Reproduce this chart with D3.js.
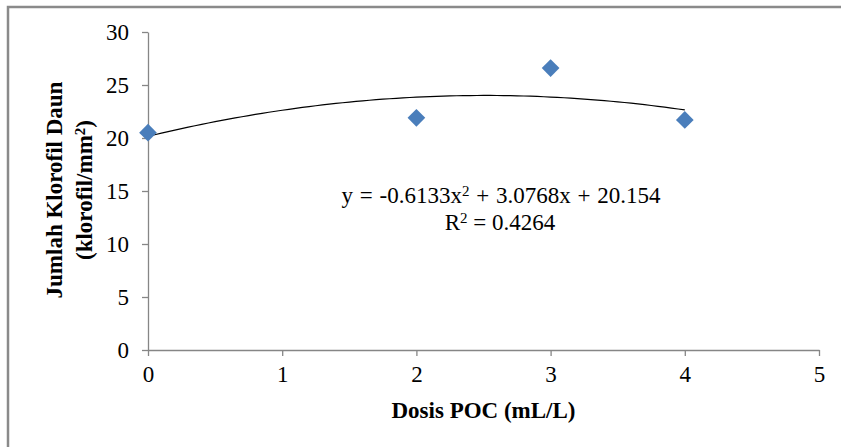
<!DOCTYPE html>
<html>
  <head>
    <script src="https://cdnjs.cloudflare.com/ajax/libs/d3/7.8.5/d3.min.js" charset="utf-8"></script>
    <style type="text/css">
      body {
        margin: 0;
        background: #fff;
      }
      svg text {
        font-family: "Liberation Serif", "Times New Roman", serif;
        fill: #000;
      }
      .axis path, .axis line {
        fill: none;
        stroke: #868686;
        stroke-width: 1.3px;
      }
    </style>
  </head>
  <body>
    <script type="text/javascript">
      // data
      var dosis = [0, 2, 3, 4];
      var klorofil = [20.5, 21.9, 26.6, 21.7];
      var xTicks = [0, 1, 2, 3, 4, 5];
      var yTicks = [0, 5, 10, 15, 20, 25, 30];
      // trendline coefficients as printed on the chart: a*x^2 + b*x + c
      var trendCoef = [-0.6133, 3.0768, 20.154];
      var trendLabel = ["y = -0.6133x", "2", " + 3.0768x + 20.154"];
      var r2Label = "0.4264";

      var w = 841, h = 447,
          margin = { top: 32, right: 22, bottom: 97, left: 148 };

      var svg = d3.select("body").append("svg")
          .attr("width", w)
          .attr("height", h);

      // outer frame (right and bottom edges are cut off in the picture)
      svg.append("path")
          .attr("d", "M8," + h + "V7H" + w)
          .attr("fill", "none")
          .attr("stroke", "#8a8a8a")
          .attr("stroke-width", 2.5);

      var xScale = d3.scaleLinear()
          .domain([0, 5])
          .range([margin.left, w - margin.right]);

      var yScale = d3.scaleLinear()
          .domain([0, 30])
          .range([h - margin.bottom, margin.top]);

      var xAxis = d3.axisBottom(xScale).tickValues(xTicks).tickFormat(d3.format("d"))
          .tickSize(6).tickPadding(10).tickSizeOuter(0);
      var yAxis = d3.axisLeft(yScale).tickValues(yTicks).tickFormat(d3.format("d"))
          .tickSize(6).tickPadding(13).tickSizeOuter(0);

      svg.append("g")
          .attr("class", "axis")
          .attr("transform", "translate(" + [margin.left, 0] + ")")
          .call(yAxis);

      svg.append("g")
          .attr("class", "axis")
          .attr("transform", "translate(" + [0, h - margin.bottom] + ")")
          .call(xAxis);

      svg.selectAll(".axis text")
          .attr("font-family", "Liberation Serif, serif")
          .attr("font-size", 23)
          .attr("fill", "#000");

      // trendline
      var a = trendCoef[0], b = trendCoef[1], c = trendCoef[2];
      var xs = d3.range(0, 4.0001, 0.05);
      var line = d3.line()
          .x(function (d) { return xScale(d); })
          .y(function (d) { return yScale(a * d * d + b * d + c); });

      svg.append("path")
          .datum(xs)
          .attr("d", line)
          .attr("fill", "none")
          .attr("stroke", "#000")
          .attr("stroke-width", 1.2);

      // diamond markers
      var diamond = d3.symbol().type(d3.symbolDiamond2).size(200);
      svg.selectAll(".pt")
          .data(dosis)
          .enter()
          .append("path")
          .attr("class", "pt")
          .attr("d", diamond)
          .attr("transform", function (d, i) {
            return "translate(" + [xScale(d), yScale(klorofil[i])] + ")";
          })
          .attr("fill", "#4a7ebb");

      // equation
      var eq = svg.append("text")
          .attr("x", 501)
          .attr("y", 203)
          .attr("text-anchor", "middle")
          .attr("font-size", 23)
          .attr("word-spacing", 1);
      eq.append("tspan").text(trendLabel[0]);
      eq.append("tspan").attr("dy", -7).attr("font-size", 15).text(trendLabel[1]);
      eq.append("tspan").attr("dy", 7).text(trendLabel[2]);

      var r2 = svg.append("text")
          .attr("x", 500)
          .attr("y", 230)
          .attr("text-anchor", "middle")
          .attr("font-size", 23);
      r2.append("tspan").text("R");
      r2.append("tspan").attr("dy", -7).attr("font-size", 15).text("2");
      r2.append("tspan").attr("dy", 7).text(" = " + r2Label);

      // axis titles
      svg.append("text")
          .attr("x", (xScale(0) + xScale(5)) / 2)
          .attr("y", 418)
          .attr("text-anchor", "middle")
          .attr("font-size", 23)
          .attr("font-weight", "bold")
          .text("Dosis POC (mL/L)");

      svg.append("text")
          .attr("transform", "translate(62,190) rotate(-90)")
          .attr("text-anchor", "middle")
          .attr("font-size", 23)
          .attr("font-weight", "bold")
          .text("Jumlah Klorofil Daun");

      var yt2 = svg.append("text")
          .attr("transform", "translate(92,190) rotate(-90)")
          .attr("text-anchor", "middle")
          .attr("font-size", 23)
          .attr("font-weight", "bold");
      yt2.append("tspan").text("(klorofil/mm");
      yt2.append("tspan").attr("dy", -7).attr("font-size", 15).text("2");
      yt2.append("tspan").attr("dy", 7).text(")");
    </script>
  </body>
</html>
